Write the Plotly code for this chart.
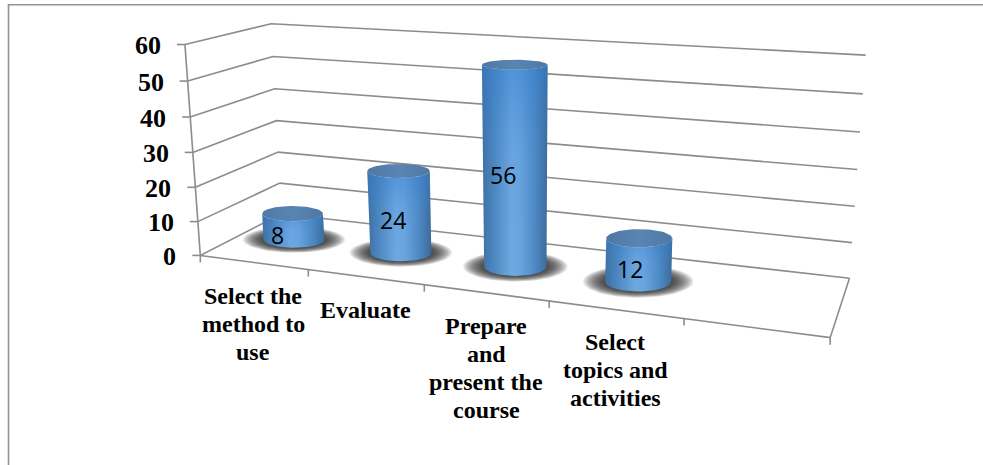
import numpy as np
import plotly.graph_objects as go

# ---------- chart data ----------
categories = ["Select the<br>method to<br>use", "Evaluate", "Prepare<br>and<br>present the<br>course", "Select<br>topics and<br>activities"]
values = [8, 24, 56, 12]
value_ticks = [0, 10, 20, 30, 40, 50, 60]
n_slots = 5  # four categories and one empty slot on the category axis

W, H = 983, 465

# ---------- the chart's tilted 3-D box: model (slot, depth, value) -> page pixel ----------
anchors = [
    ((0,0,0),(200.7,254)),((0,0,10),(197.7,221)),((0,0,20),(195.7,186.7)),((0,0,30),(193,151)),
    ((0,0,40),(191,116.7)),((0,0,50),(187.7,81)),((0,0,60),(184.3,44.7)),
    ((0,1,60),(270,24.3)),((0,1,50),(272.7,56.7)),((0,1,40),(276,88.7)),((0,1,30),(276.7,120)),
    ((0,1,20),(278.3,152.7)),((0,1,10),(279,183.3)),
    ((5,1,60),(865.7,55.7)),((5,1,50),(863,94)),((5,1,40),(860,132)),((5,1,30),(857.3,169.3)),
    ((5,1,20),(855,206)),((5,1,10),(852.3,242)),((5,1,0),(849.3,277.7)),
    ((5,0,0),(830,335.7)),((1,0,0),(308,272)),((2,0,0),(424,286)),((3,0,0),(549,302)),((4,0,0),(684,320)),
]
A = []
for (X, Y, Z), (u, v) in anchors:
    Z = Z / 10
    A.append([X, Y, Z, 1, 0, 0, 0, 0, -u*X, -u*Y, -u*Z, -u])
    A.append([0, 0, 0, 0, X, Y, Z, 1, -v*X, -v*Y, -v*Z, -v])
P = np.linalg.svd(np.array(A, float))[2][-1].reshape(3, 4)

def proj(x, y, z):
    x, y, z = np.broadcast_arrays(np.asarray(x, float), np.asarray(y, float), np.asarray(z, float) / 10)
    p = P @ np.stack([x, y, z, np.ones_like(x)])
    return p[0] / p[2], p[1] / p[2]

GRID = "#8c8c8c"
fig = go.Figure()

def line(xs, ys, width=1.6, color=GRID):
    fig.add_trace(go.Scatter(x=list(xs), y=list(ys), mode="lines", line=dict(color=color, width=width),
                             hoverinfo="skip", showlegend=False))

# outer frame of the picture
line([8.5, 8.5, W], [H, 4.8, 4.8], 1.6, "#939393")

# wall gridlines, value axis and its ticks
for v in value_ticks:
    xs, ys = proj([0, 0, n_slots], [0, 1, 1], [v, v, v])
    line(xs, ys)
    x0, y0 = proj(0, 0, v)
    line([float(x0) - 8, float(x0)], [float(y0), float(y0)])
    fig.add_annotation(x=float(x0) - 22, y=float(y0) + 1, text=f"<b>{v}</b>", showarrow=False, xanchor="right",
                       font=dict(family="Liberation Serif", size=26, color="black"))
xs, ys = proj([0, 0], [0, 0], [0, 60])
line(xs, ys)

# floor outline and category ticks
xs, ys = proj([0, n_slots, n_slots], [0, 0, 1], [0, 0, 0])
line(xs, ys)
for i in range(n_slots + 1):
    x0, y0 = proj(i, 0, 0)
    line([float(x0), float(x0)], [float(y0), float(y0) + 7])

# cylinder proportions: half width in px at base and top, half depth in model units
BASE_HW = [30.5, 30.5, 31.2, 33.0]
TOP_HW = [30.3, 31.2, 32.8, 33.0]
RY, YC = 0.19, 0.5
theta = np.linspace(0, 2 * np.pi, 73)

def ring(i, z, hw, scale_x=1.0, scale_y=1.0):
    cx, cy = proj(i + 0.5, YC, z)
    _, y_back = proj(i + 0.5, YC + RY, z)
    _, y_front = proj(i + 0.5, YC - RY, z)
    hh = abs(float(y_front) - float(y_back)) / 2
    return cx + hw * scale_x * np.cos(theta), cy + hh * scale_y * np.sin(theta)

# soft shadows on the floor
for s in np.linspace(1, 0, 18):
    sx, sy = [], []
    for i in range(len(values)):
        a, b = ring(i, 0, BASE_HW[i], 1.0 + 0.68 * s, 1.0 + 0.62 * s)
        sx += list(a) + [None]
        sy += list(b) + [None]
    fig.add_trace(go.Scatter(x=sx, y=sy, mode="lines", fill="toself", line=dict(width=0),
                             fillcolor="rgba(40,40,40,0.085)", hoverinfo="skip", showlegend=False))

# cylinders
side = [[0, "#3f6f9f"], [0.18, "#4d87c0"], [0.45, "#6fa9e2"], [0.58, "#6aa5df"], [0.82, "#4d88c2"], [1, "#3c6a98"]]
fade = [[0, "rgba(60,130,210,0)"], [0.55, "rgba(60,130,210,0.10)"], [1, "rgba(50,125,205,0.50)"]]
top_fill = [[0, "#4f78a4"], [0.5, "#5a84b2"], [1, "#4f78a4"]]
for i, v in enumerate(values):
    bx, by = ring(i, 0, BASE_HW[i])
    tx, ty = ring(i, v, TOP_HW[i])
    # the visible side: front half of the base ring and front half of the top ring (y grows downward on the page)
    front = np.arange(37)
    px = np.r_[bx[front], tx[front][::-1], bx[0]]
    py = np.r_[by[front], ty[front][::-1], by[0]]
    for grad in (dict(type="horizontal", colorscale=side), dict(type="vertical", colorscale=fade)):
        fig.add_trace(go.Scatter(x=px, y=py, mode="lines", fill="toself", line=dict(width=0),
                                 fillgradient=grad, hoverinfo="skip", showlegend=False))
    fig.add_trace(go.Scatter(x=tx, y=ty, mode="lines", fill="toself", line=dict(width=0),
                             fillgradient=dict(type="horizontal", colorscale=top_fill),
                             hoverinfo="skip", showlegend=False))

# data labels
label_offset = [(-16, 8), (-7, 8), (-12, 7), (-9, 9)]
for i, v in enumerate(values):
    x0, y0 = proj(i + 0.5, YC, v * 0.5)
    fig.add_annotation(x=float(x0) + label_offset[i][0], y=float(y0) + label_offset[i][1], text=str(v), showarrow=False,
                       font=dict(family="Open Sans", size=23, color="black"))

# category labels, one annotation per line for the original's tight line spacing
cat_xy = [(253, 296), (365, 310), (486, 326), (615, 342)]
LINE_STEP = 28
for (cx, cy), c in zip(cat_xy, categories):
    for k, part in enumerate(c.split("<br>")):
        fig.add_annotation(x=cx, y=cy + k * LINE_STEP, text=f"<b>{part}</b>", showarrow=False, align="center",
                           font=dict(family="Liberation Serif", size=24, color="black"))

fig.update_layout(width=W, height=H, margin=dict(l=0, r=0, t=0, b=0), paper_bgcolor="white", plot_bgcolor="white",
                  xaxis=dict(range=[0, W], visible=False, fixedrange=True),
                  yaxis=dict(range=[H, 0], visible=False, fixedrange=True), showlegend=False)
fig.write_html("out.html", config={"displayModeBar": False},
               post_script="document.body.style.margin='0';document.documentElement.style.overflow='hidden';")
